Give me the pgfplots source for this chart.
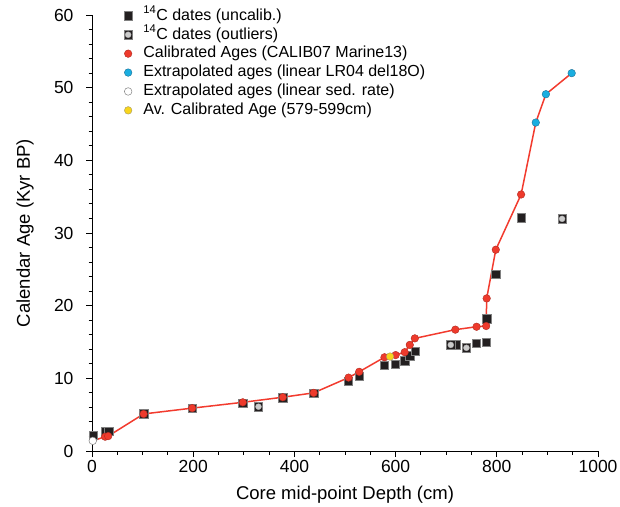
\documentclass[border=0pt]{standalone}
\usepackage{pgfplots}
\pgfplotsset{compat=1.18}
\usepackage{fontspec}
\setmainfont{Liberation Sans}
\definecolor{calred}{HTML}{EE3A2C}
\definecolor{calredd}{HTML}{B02A20}
\definecolor{extblue}{HTML}{1AAEE0}
\definecolor{extblued}{HTML}{1A6F96}
\definecolor{avyel}{HTML}{F8D51C}
\definecolor{sqblack}{HTML}{231F20}
\definecolor{linered}{HTML}{F23B2E}
\begin{document}
\begin{tikzpicture}
\path[use as bounding box] (0,0) rectangle (620pt,506pt);
\begin{axis}[
  at={(92pt,55pt)}, anchor=south west,
  scale only axis, width=506pt, height=436pt,
  xmin=0, xmax=1000, ymin=0, ymax=60,
  axis x line*=bottom, axis y line*=left,
  xtick={0,200,...,1000}, ytick={0,10,...,60},
  minor x tick num=3, minor y tick num=4,
  tick align=outside,
  major tick length=6pt, minor tick length=3.5pt,
  tick style={black, line width=0.9pt},
  axis line style={black, line width=1pt},
  ticklabel style={font=\fontsize{17.5}{19}\selectfont},
  yticklabel style={xshift=-9pt},
  /pgf/number format/assume math mode=true,
  /pgf/number format/1000 sep={},
  xlabel={Core mid-point Depth (cm)}, ylabel={Calendar Age (Kyr BP)},
  label style={font=\fontsize{18.5}{20}\selectfont},
  xlabel style={at={(axis description cs:0.5,-0.0999)}, anchor=center},
  ylabel style={at={(axis description cs:-0.132,0.5)}, anchor=center},
  clip=false,
  legend cell align=left,
  legend style={at={(0.045,1.022)}, anchor=north west, draw=none, fill=none,
    font=\fontsize{16}{17}\selectfont, row sep=2.4pt,
    nodes={text height=11.5pt, text depth=3pt, inner sep=1pt}},
  legend image code/.code={\path (0pt,0pt) (24pt,0pt); \draw[#1,only marks] plot coordinates {(10pt,0pt)};},
]
% age model line
\addplot[linered, line width=1.5pt, forget plot] coordinates {
(1.5,1.4)(26,1.97)(32,2.05)(102,5.1)(198,5.9)(298,6.7)(377,7.4)(438,8.0)
(507,10.1)(528,10.9)(578,12.9)(589,13.0)(600,13.2)(618,13.6)(628,14.6)(638,15.5)
(718,16.7)(760,17.1)(779,17.2)(780,21.0)(798,27.7)(848,35.3)(877,45.2)(897,49.1)(948,52.0)};
% 14C dates uncalibrated
\addplot[only marks, mark=square*, mark size=4.2pt, mark options={fill=sqblack, draw=black!50, line width=0.6pt}] coordinates {
(3,2.2)(26,2.75)(33,2.75)(102,5.1)(198,5.9)(298,6.6)(377,7.3)(438,7.9)(507,9.6)(528,10.3)
(578,11.8)(599,11.9)(618,12.4)(628,13.1)(639,13.7)(719,14.6)(760,14.8)(779,14.95)(780,18.2)(798,24.3)(848,32.1)};
\addlegendentry{\textsuperscript{14}C dates (uncalib.)}
% outliers
\addplot[only marks, mark=square*, mark size=4.2pt, mark options={fill=sqblack, draw=black!50, line width=0.6pt},
  legend image code/.code={\path (0pt,0pt) (24pt,0pt);
    \draw[only marks, mark=square*, mark size=4.2pt, mark options={fill=sqblack, draw=black!50, line width=0.6pt}] plot coordinates {(10pt,0pt)};
    \draw[only marks, mark=*, mark size=3pt, mark options={fill=gray!40, draw=gray!60, line width=0.3pt}] plot coordinates {(10pt,0pt)};}] coordinates {
(329,6.1)(709,14.6)(740,14.2)(929,31.95)};
\addlegendentry{\textsuperscript{14}C dates (outliers)}
\addplot[forget plot, only marks, mark=*, mark size=3pt, mark options={fill=gray!40, draw=gray!60, line width=0.3pt}] coordinates {
(329,6.1)(709,14.6)(740,14.2)(929,31.95)};
% calibrated
\addplot[only marks, mark=*, mark size=3.8pt, mark options={fill=calred, draw=calredd, line width=0.4pt}] coordinates {
(26,1.97)(32,2.05)(102,5.1)(198,5.9)(298,6.7)(377,7.4)(438,8.0)(507,10.1)(528,10.9)
(578,12.9)(600,13.2)(618,13.6)(628,14.6)(638,15.5)(718,16.7)(760,17.1)(779,17.2)(780,21.0)(798,27.7)(848,35.3)};
\addlegendentry{Calibrated Ages (CALIB07 Marine13)}
% extrapolated LR04
\addplot[only marks, mark=*, mark size=3.8pt, mark options={fill=extblue, draw=extblued, line width=0.4pt}] coordinates {
(877,45.2)(897,49.1)(948,52.0)};
\addlegendentry{Extrapolated ages (linear LR04 del18O)}
% extrapolated sed rate
\addplot[only marks, mark=*, mark size=3.8pt, mark options={fill=white, draw=gray, line width=0.5pt}] coordinates {
(1.5,1.4)};
\addlegendentry{Extrapolated ages (linear sed. rate)}
% average calibrated
\addplot[only marks, mark=*, mark size=3.8pt, mark options={fill=avyel, draw=gray!70!avyel, line width=0.4pt}] coordinates {
(589,13.0)};
\addlegendentry{Av. Calibrated Age (579-599cm)}
\end{axis}
\end{tikzpicture}
\end{document}
